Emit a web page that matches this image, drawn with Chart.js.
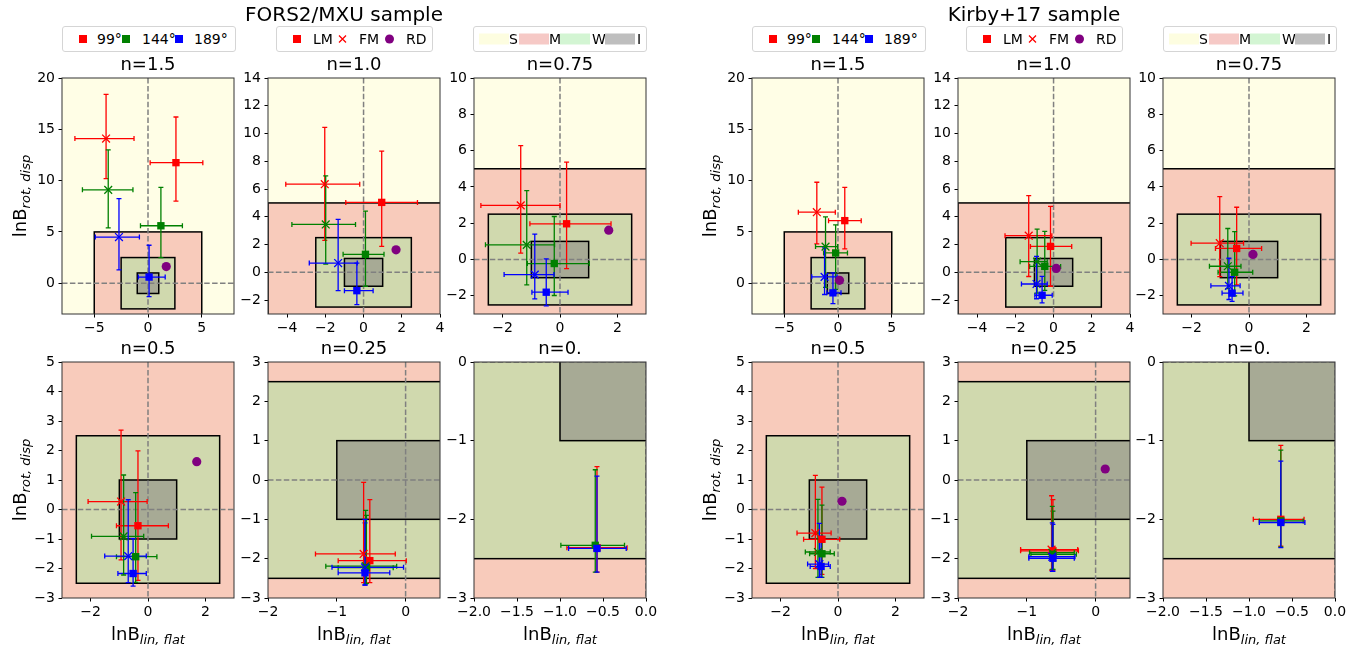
<!DOCTYPE html>
<html>
<head>
<meta charset="utf-8">
<script src="https://cdn.jsdelivr.net/npm/chart.js@4.4.0/dist/chart.umd.min.js"></script>
<style>
  body { margin: 0; background: #fff; width: 1368px; height: 652px; position: relative; overflow: hidden;
         font-family: 'DejaVu Sans', sans-serif; color: #000; }
  canvas { position: absolute; }
  .lab { position: absolute; transform: translate(-50%, -50%); white-space: nowrap; }
  .sup { font-size: 20px; }
  .ax { font-size: 18px; }
  .ax sub { font-size: 13px; font-style: italic; }
  .rot { transform: translate(-50%, -50%) rotate(-90deg); }
  .leg { position: absolute; top: 26px; height: 26px; border: 1px solid #d5d5d5; border-radius: 3px;
         background: #fff; box-sizing: border-box; font-size: 14px; }
  .leg > * { position: absolute; top: 50%; transform: translateY(-50%); }
  .sq { width: 8px; height: 8px; }
  .dot { width: 9px; height: 9px; border-radius: 50%; background: #800080; }
  .patch { width: 30px; height: 11px; }
</style>
</head>
<body>
<script>
// panels: n = 1.5, 1.0, 0.75, 0.5, 0.25, 0
const nLabels = ['n=1.5', 'n=1.0', 'n=0.75', 'n=0.5', 'n=0.25', 'n=0.'];
const xRanges = [[-8, 8], [-5, 4], [-3, 3], [-3, 3], [-2, 0.5], [-2, 0]];
const yRanges = [[-3, 20], [-3, 14], [-3, 10], [-3, 5], [-3, 3], [-3, 0]];
const xTicks = [[-5, 0, 5], [-4, -2, 0, 2, 4], [-2, 0, 2], [-2, 0, 2], [-2, -1, 0], [-2, -1.5, -1, -0.5, 0]];
const yTicks = [[0, 5, 10, 15, 20], [-2, 0, 2, 4, 6, 8, 10, 12, 14], [-2, 0, 2, 4, 6, 8, 10],
                [-3, -2, -1, 0, 1, 2, 3, 4, 5], [-3, -2, -1, 0, 1, 2, 3], [-3, -2, -1, 0]];
const hasSZone = [true, true, true, false, false, false];

// zone limits (M: |x|<5, y<5 ; W: |x|,|y|<2.5 ; I: |x|,|y|<1)
const zoneM = 5, zoneW = 2.5, zoneI = 1;

const angleLabels = ['99°', '144°', '189°'];
const angleColors = ['#ff0000', '#008000', '#0000ff'];

// each row = one panel, each entry = [x, xLo, xHi, y, yLo, yHi] for 99°, 144°, 189°
const forsLM = [
  [[2.6, 0.2, 5.1, 11.75, 8.0, 16.2], [1.2, -0.7, 3.2, 5.6, 2.5, 9.35], [0.1, -0.9, 1.6, 0.6, -1.3, 3.7]],
  [[0.95, -0.93, 2.82, 5.04, 1.87, 8.73], [0.1, -1.07, 1.07, 1.3, -1.0, 4.41], [-0.35, -1.0, 0.5, -1.32, -2.33, 0.67]],
  [[0.23, -1.05, 1.78, 1.97, -0.5, 5.37], [-0.2, -1.14, 1.02, -0.22, -1.98, 2.37], [-0.48, -0.98, 0.28, -1.8, -2.55, 0.04]],
  [[-0.35, -1.1, 0.71, -0.55, -2.4, 1.99], [-0.43, -1.1, 0.31, -1.6, -2.47, 0.57], [-0.52, -1.05, -0.06, -2.17, -2.6, -0.99]],
  [[-0.52, -0.98, 0.01, -2.05, -2.61, -0.5], [-0.57, -0.98, -0.18, -2.23, -2.63, -0.9], [-0.59, -0.98, -0.23, -2.36, -2.67, -1.09]],
  [[-0.57, -0.92, -0.22, -2.36, -2.67, -1.33], [-0.59, -0.99, -0.25, -2.33, -2.67, -1.37], [-0.57, -0.9, -0.23, -2.37, -2.67, -1.45]]
];
const forsFM = [
  [[-3.9, -6.8, -1.3, 14.1, 10.2, 18.4], [-3.7, -6.1, -1.4, 9.1, 5.4, 13.0], [-2.7, -4.9, -0.8, 4.5, 1.3, 8.25]],
  [[-2.03, -4.07, -0.2, 6.35, 2.3, 10.45], [-1.98, -3.75, -0.42, 3.45, 0.6, 6.95], [-1.33, -2.84, -0.33, 0.67, -1.32, 3.81]],
  [[-1.37, -2.76, 0.0, 2.98, 0.35, 6.27], [-1.16, -2.6, -0.19, 0.81, -1.4, 3.8], [-0.88, -1.95, -0.21, -0.83, -2.17, 1.4]],
  [[-0.94, -2.09, -0.03, 0.27, -1.71, 2.69], [-0.85, -1.97, -0.15, -0.91, -2.22, 1.17], [-0.69, -1.51, -0.06, -1.58, -2.48, 0.33]],
  [[-0.61, -1.31, -0.15, -1.88, -2.61, -0.06], [-0.58, -1.16, -0.13, -2.19, -2.64, -0.77], [-0.59, -1.07, -0.03, -2.22, -2.67, -1.0]],
  null
];
const forsRD = [1.7, 1.62];

const kirbyLM = [
  [[0.63, -0.88, 2.16, 6.1, 3.34, 9.35], [-0.22, -1.34, 0.88, 2.95, -0.6, 5.68], [-0.47, -1.03, 0.28, -0.94, -1.98, 1.0]],
  [[-0.16, -1.21, 0.95, 1.87, -1.0, 4.75], [-0.46, -1.25, 0.37, 0.43, -1.3, 2.95], [-0.6, -0.98, -0.07, -1.65, -2.2, -0.29]],
  [[-0.43, -1.17, 0.44, 0.61, -1.4, 2.88], [-0.5, -1.08, 0.13, -0.7, -2.0, 1.54], [-0.59, -0.94, -0.21, -1.85, -2.31, -0.94]],
  [[-0.56, -1.2, 0.06, -1.01, -2.2, 0.76], [-0.56, -0.99, -0.13, -1.5, -2.3, 0.15], [-0.59, -0.97, -0.27, -1.93, -2.3, -0.9]],
  [[-0.62, -1.09, -0.25, -1.8, -2.29, -0.5], [-0.62, -0.94, -0.28, -1.89, -2.27, -0.79], [-0.62, -0.97, -0.31, -1.99, -2.32, -1.13]],
  [[-0.63, -0.95, -0.36, -2.0, -2.34, -1.06], [-0.63, -0.88, -0.37, -2.02, -2.35, -1.12], [-0.63, -0.88, -0.35, -2.04, -2.36, -1.26]]
];
const kirbyFM = [
  [[-1.97, -3.69, -0.25, 6.92, 3.83, 9.84], [-1.16, -2.09, -0.03, 3.57, -0.4, 6.46], [-1.25, -2.44, -0.09, 0.62, -1.1, 3.44]],
  [[-1.3, -2.54, -0.09, 2.64, -0.3, 5.52], [-0.86, -1.75, -0.33, 0.77, -1.5, 3.12], [-0.89, -1.68, -0.33, -0.84, -1.9, 1.15]],
  [[-1.02, -2.02, -0.19, 0.9, -0.94, 3.47], [-0.74, -1.38, -0.28, -0.37, -1.6, 1.71], [-0.7, -1.33, -0.31, -1.45, -2.2, 0.07]],
  [[-0.79, -1.43, -0.24, -0.8, -2.0, 1.16], [-0.7, -1.14, -0.27, -1.44, -2.3, 0.34], [-0.65, -1.06, -0.33, -1.85, -2.3, -0.47]],
  [[-0.64, -1.09, -0.26, -1.77, -2.29, -0.4], [-0.63, -0.96, -0.31, -1.85, -2.27, -0.67], [-0.63, -0.97, -0.3, -1.95, -2.32, -1.09]],
  null
];
const kirbyRD = [0.14, 0.28];

const sampleTitles = ['FORS2/MXU sample', 'Kirby+17 sample'];
const samples = [
  { lm: forsLM, fm: forsFM, rd: forsRD },
  { lm: kirbyLM, fm: kirbyFM, rd: kirbyRD }
];

const zoneFill = { S: '#fffee6', M: '#f8cbbb', W: '#d0d9ae', I: '#a7aa95' };
const legendFill = { S: '#fdfde0', M: '#f6c9c6', W: '#d3f5d3', I: '#bebebe' };

Chart.defaults.font.family = "'DejaVu Sans', sans-serif";
Chart.defaults.font.size = 14;
Chart.defaults.color = '#000';

const fmt = (v, dec) => (dec ? v.toFixed(1) : String(v)).replace('-', '\u2212');

// layout
const groupLeft = [[62, 268, 474], [752, 958, 1163]];
const rowTop = [78, 362];
const plotW = 172, plotH = 236;
const axW = 48, axH = 30, titleH = 26, padR = 18;

function zonesPlugin(k, s) {
  return {
    id: 'zones',
    beforeDatasetsDraw(chart) {
      const { ctx, chartArea: a, scales: { x, y } } = chart;
      const px = v => x.getPixelForValue(v), py = v => y.getPixelForValue(v);
      ctx.save();
      ctx.beginPath();
      ctx.rect(a.left, a.top, a.width, a.height);
      ctx.clip();

      ctx.fillStyle = hasSZone[k] ? zoneFill.S : zoneFill.M;
      ctx.fillRect(a.left, a.top, a.width, a.height);
      const boxes = [];
      if (hasSZone[k]) boxes.push([zoneFill.M, -zoneM, zoneM, -50, zoneM]);
      boxes.push([zoneFill.W, -zoneW, zoneW, -zoneW, zoneW]);
      boxes.push([zoneFill.I, -zoneI, zoneI, -zoneI, zoneI]);
      ctx.lineWidth = 1.5;
      ctx.strokeStyle = '#000';
      boxes.forEach(([c, x0, x1, y0, y1]) => {
        const l = px(x0), r = px(x1), t = py(y1), b = py(y0);
        ctx.fillStyle = c;
        ctx.fillRect(l, t, r - l, b - t);
        ctx.strokeRect(l, t, r - l, b - t);
      });

      // zero lines
      ctx.setLineDash([5.5, 2.4]);
      ctx.strokeStyle = '#808080';
      ctx.lineWidth = 1.5;
      ctx.beginPath();
      ctx.moveTo(px(0), a.top); ctx.lineTo(px(0), a.bottom);
      ctx.moveTo(a.left, py(0)); ctx.lineTo(a.right, py(0));
      ctx.stroke();
      ctx.setLineDash([]);

      // error bars
      ctx.lineWidth = 1.3;
      const cap = 2.5;
      [s.lm[k], s.fm[k]].forEach(rows => {
        if (!rows) return;
        rows.forEach((r, i) => {
          const [xv, xl, xh, yv, yl, yh] = r;
          const cx = px(xv), cy = py(yv);
          ctx.strokeStyle = angleColors[i];
          ctx.beginPath();
          ctx.moveTo(px(xl), cy); ctx.lineTo(px(xh), cy);
          ctx.moveTo(cx, py(yl)); ctx.lineTo(cx, py(yh));
          [xl, xh].forEach(e => { ctx.moveTo(px(e), cy - cap); ctx.lineTo(px(e), cy + cap); });
          [yl, yh].forEach(e => { ctx.moveTo(cx - cap, py(e)); ctx.lineTo(cx + cap, py(e)); });
          ctx.stroke();
        });
      });
      ctx.restore();
    },
    afterDatasetsDraw(chart) {
      const { ctx, chartArea: a } = chart;
      ctx.save();
      ctx.strokeStyle = '#333';
      ctx.lineWidth = 1;
      ctx.strokeRect(a.left, a.top, a.width, a.height);
      // panel title, centred over the plot area
      ctx.fillStyle = '#000';
      ctx.font = "18px 'DejaVu Sans', sans-serif";
      ctx.textAlign = 'center';
      ctx.textBaseline = 'middle';
      ctx.fillText(nLabels[k], (a.left + a.right) / 2, a.top - 13);
      ctx.restore();
    }
  };
}

function makePanel(g, k) {
  const s = samples[g];
  const row = k < 3 ? 0 : 1, col = k % 3;
  const cv = document.createElement('canvas');
  cv.width = axW + plotW + padR;
  cv.height = titleH + plotH + axH + 2;
  cv.style.left = (groupLeft[g][col] - axW) + 'px';
  cv.style.top = (rowTop[row] - titleH) + 'px';
  document.body.appendChild(cv);

  const datasets = [];
  angleColors.forEach((c, i) => {
    datasets.push({
      label: 'LM ' + angleLabels[i], order: 3 - i, clip: 0,
      data: [{ x: s.lm[k][i][0], y: s.lm[k][i][3] }],
      pointStyle: 'rect', pointRadius: 5.2, backgroundColor: c, borderColor: c, borderWidth: 0
    });
    if (s.fm[k]) {
      datasets.push({
        label: 'FM ' + angleLabels[i], order: 3 - i, clip: 0,
        data: [{ x: s.fm[k][i][0], y: s.fm[k][i][3] }],
        pointStyle: 'crossRot', pointRadius: 5.5, borderColor: c, borderWidth: 1.3
      });
    }
  });
  datasets.push({
    label: 'RD', order: 0, clip: 0,
    data: [{ x: s.rd[0], y: s.rd[1] }],
    pointStyle: 'circle', pointRadius: 4.6, backgroundColor: '#800080', borderColor: '#800080', borderWidth: 0
  });

  const axis = (range, ticks, dec, isX) => ({
    type: 'linear', min: range[0], max: range[1],
    afterBuildTicks: a => { a.ticks = ticks.map(v => ({ value: v })); },
    afterFit: a => { if (isX) a.height = axH; else a.width = axW; },
    ticks: { callback: v => fmt(v, dec), padding: isX ? 2.5 : 3.5, autoSkip: false, maxRotation: 0, color: '#000' },
    grid: { drawOnChartArea: false, drawTicks: true, tickLength: 3.5, tickColor: '#000', tickWidth: 1 },
    border: { display: false }
  });

  new Chart(cv, {
    type: 'scatter',
    data: { datasets },
    options: {
      responsive: false, animation: false, devicePixelRatio: 1,
      layout: { padding: { left: 0, top: titleH, right: padR, bottom: 2 } },
      plugins: {
        legend: { display: false },
        tooltip: { enabled: false },
        title: { display: false }
      },
      scales: {
        x: axis(xRanges[k], xTicks[k], k === 5, true),
        y: axis(yRanges[k], yTicks[k], false, false)
      }
    },
    plugins: [zonesPlugin(k, s)]
  });
}

function addLabel(html, x, y, cls) {
  const d = document.createElement('div');
  d.className = 'lab ' + cls;
  d.innerHTML = html;
  d.style.left = x + 'px';
  d.style.top = y + 'px';
  document.body.appendChild(d);
}

function addLegend(left, width, items) {
  const box = document.createElement('div');
  box.className = 'leg';
  box.style.left = left + 'px';
  box.style.width = width + 'px';
  items.forEach(([html, off]) => {
    const t = document.createElement('div');
    t.innerHTML = html;
    t.style.left = off + 'px';
    t.style.lineHeight = '0';
    box.appendChild(t);
  });
  document.body.appendChild(box);
}

const crossSvg = c => `<svg width="9" height="9" style="display:block"><path d="M1 1L8 8M8 1L1 8" stroke="${c}" stroke-width="1.3"/></svg>`;
const squareHtml = c => `<div class="sq" style="background:${c}"></div>`;
const textHtml = t => `<div style="line-height:16px">${t}</div>`;

samples.forEach((s, g) => {
  for (let k = 0; k < 6; k++) makePanel(g, k);
  const shift = g === 0 ? 0 : 690;
  addLabel(sampleTitles[g], g === 0 ? 344 : 1034, 14, 'sup');
  addLabel('lnB<sub>rot, disp</sub>', 21 + shift, rowTop[0] + plotH / 2, 'ax rot');
  addLabel('lnB<sub>rot, disp</sub>', 21 + shift, rowTop[1] + plotH / 2, 'ax rot');
  groupLeft[g].forEach(c => addLabel('lnB<sub>lin, flat</sub>', c + plotW / 2, 635, 'ax'));

  addLegend(62 + shift, 174, [
    [squareHtml(angleColors[0]), 16], [textHtml(angleLabels[0]), 34],
    [squareHtml(angleColors[1]), 59], [textHtml(angleLabels[1]), 79],
    [squareHtml(angleColors[2]), 112], [textHtml(angleLabels[2]), 131]
  ]);
  addLegend(276 + shift, 157, [
    [squareHtml('#ff0000'), 16], [textHtml('LM'), 36],
    [crossSvg('#ff0000'), 61], [textHtml('FM'), 82],
    ['<div class="dot"></div>', 108], [textHtml('RD'), 129]
  ]);
  addLegend(473 + shift, 174, [
    [`<div class="patch" style="background:${legendFill.S}"></div>`, 5], [textHtml('S'), 35],
    [`<div class="patch" style="background:${legendFill.M}"></div>`, 45], [textHtml('M'), 75],
    [`<div class="patch" style="background:${legendFill.W}"></div>`, 86], [textHtml('W'), 118],
    [`<div class="patch" style="background:${legendFill.I}"></div>`, 131], [textHtml('I'), 163]
  ]);
});
</script>
</body>
</html>
